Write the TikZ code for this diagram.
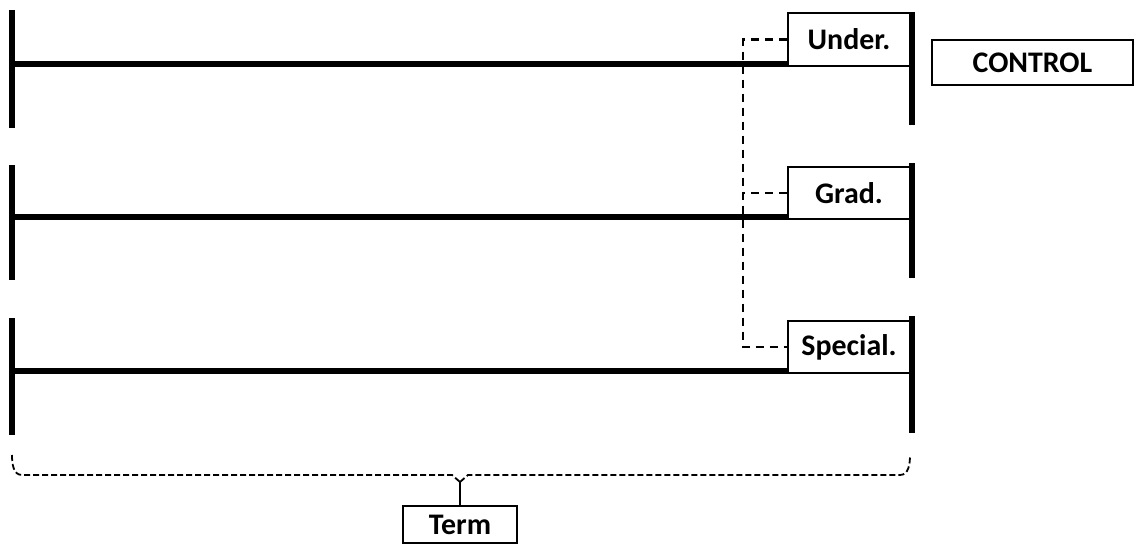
\documentclass[tikz,border=0pt]{standalone}
\usepackage{fontspec}
\setmainfont{Carlito}
\begin{document}
\begin{tikzpicture}[x=1bp,y=-1bp,
  bar/.style={line width=6bp},
  link/.style={line width=5.5bp},
  labelbox/.style={draw,line width=2.2bp,fill=white,inner sep=0pt,
    font=\fontsize{30}{32}\selectfont\bfseries},
  dashlink/.style={line width=2.5bp,dash pattern=on 8bp off 6bp},
  bracket/.style={line width=1.8bp,dash pattern=on 6bp off 3bp}]
\useasboundingbox (0,0) rectangle (1142,545);

% level boxes on the right edge of each track
\node[labelbox,minimum width=122bp,minimum height=53bp] (under) at (849,39.5) {Under.};
\node[labelbox,minimum width=122bp,minimum height=52bp] (grad) at (849,193) {Grad.};
\node[labelbox,minimum width=122bp,minimum height=52bp] (special) at (849,347) {Special.};
\node[labelbox,minimum width=201bp,minimum height=45bp] (control) at (1032.5,62.5) {CONTROL};
\node[labelbox,minimum width=114bp,minimum height=37bp] (term) at (460,524.5) {Term};

% start points of the three tracks
\coordinate (l1) at (12,64);
\coordinate (l2) at (12,217);
\coordinate (l3) at (12,371);

% vertical end bars
\draw[bar] (12,10) -- (12,128);
\draw[bar] (12,165) -- (12,280);
\draw[bar] (12,318) -- (12,435);
\draw[bar] (912,12) -- (912,125);
\draw[bar] (912,163) -- (912,278);
\draw[bar] (912,316) -- (912,433);

% tracks running into the boxes
\draw[link] (l1) -- (l1 -| under.west);
\draw[link] (l2) -- (l2 -| grad.west);
\draw[link] (l3) -- (l3 -| special.west);

% dashed tie between the level boxes
\coordinate (tie) at (743,0);
\draw[dashlink] (under.west) -- (under.west -| tie) -- (special.west -| tie) -- (special.west);
\draw[dashlink] (grad.west) -- (grad.west -| tie);

% dashed bracket spanning all tracks
\coordinate (tip) at (460,482);
\draw[bracket] (12,455) to[out=-90,in=180] (22,475) -- (452,475) -- (tip);
\draw[bracket] (tip) -- (468,475) -- (900,475) to[out=0,in=-90] (910,455);
\draw[line width=1.8bp] (tip) -- (term.north);
\end{tikzpicture}
\end{document}
